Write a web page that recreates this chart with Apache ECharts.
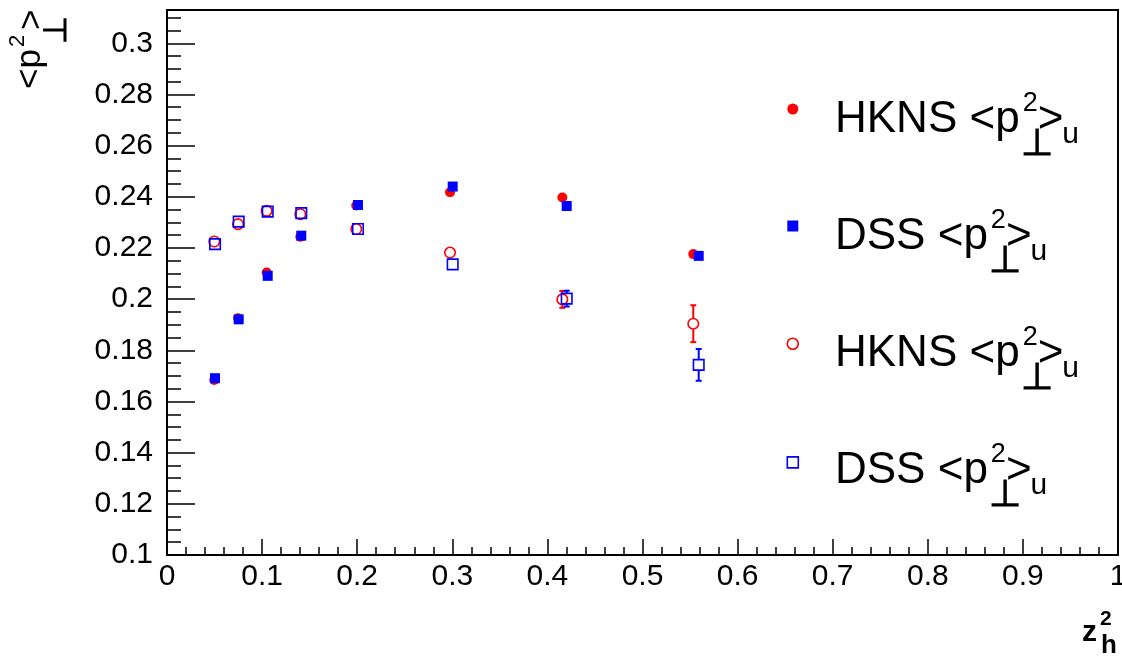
<!DOCTYPE html>
<html><head><meta charset="utf-8">
<script src="https://cdn.jsdelivr.net/npm/echarts@6/dist/echarts.min.js"></script>
<style>html,body{margin:0;padding:0;background:#fff}#c{width:1122px;height:656px}</style>
</head><body><div id="c"></div>
<script>
// ---------- data ----------
const hknsX = [0.0497, 0.0747, 0.1048, 0.1402, 0.1990, 0.2976, 0.4157, 0.5534];
const dssX  = [0.0505, 0.0754, 0.1059, 0.1412, 0.2008, 0.3004, 0.4203, 0.5591];
const hknsFilledY = [0.1684, 0.1925, 0.2104, 0.2244, 0.2366, 0.2418, 0.2397, 0.2176];
const dssFilledY  = [0.1691, 0.1921, 0.2091, 0.2248, 0.2368, 0.2440, 0.2364, 0.2169];
const hknsOpenY   = [0.2225, 0.2293, 0.2345, 0.2332, 0.2274, 0.2182, 0.1999, 0.1904];
const hknsOpenErr = [0, 0, 0, 0, 0, 0, 0.0033, 0.0072];
const dssOpenY    = [0.2215, 0.2303, 0.2342, 0.2336, 0.2274, 0.2136, 0.2002, 0.1743];
const dssOpenErr  = [0, 0, 0, 0, 0, 0, 0.0031, 0.0062];
const xTickLabels = ['0','0.1','0.2','0.3','0.4','0.5','0.6','0.7','0.8','0.9','1'];
const yTickLabels = ['0.1','0.12','0.14','0.16','0.18','0.2','0.22','0.24','0.26','0.28','0.3'];
const legendNames = ['HKNS', 'DSS', 'HKNS', 'DSS'];

// ---------- helpers ----------
const FONT = '"Liberation Sans", Arial, Helvetica, sans-serif';
const cv = document.createElement('canvas').getContext('2d');
function measure(t, fs, wt) { cv.font = (wt || 'normal') + ' ' + fs + 'px "Liberation Sans"'; return cv.measureText(t).width; }
function txt(t, x, baseline, fs, wt) {
  return { type: 'text', x: x, y: baseline - 0.35 * fs, silent: true,
    style: { text: t, fill: '#000', fontSize: fs, fontFamily: FONT, fontWeight: wt || 'normal',
      align: 'left', textAlign: 'left', verticalAlign: 'middle', textVerticalAlign: 'middle' } };
}
const pts = (xs, ys) => xs.map((x, i) => [x, ys[i]]);
const errPts = (xs, ys, es) => xs.map((x, i) => [x, ys[i], es[i]]);

function errorRender(color, r) {
  return function (params, api) {
    const x = api.value(0), y = api.value(1), e = api.value(2);
    if (!e) return;
    const c = api.coord([x, y]);
    const top = api.coord([x, y + e]);
    const bot = api.coord([x, y - e]);
    const st = { stroke: color, lineWidth: 2 };
    const cap = 3;
    const ch = [];
    if (c[1] - r > top[1]) ch.push({ type: 'line', shape: { x1: c[0], y1: top[1], x2: c[0], y2: c[1] - r }, style: st });
    if (bot[1] > c[1] + r) ch.push({ type: 'line', shape: { x1: c[0], y1: c[1] + r, x2: c[0], y2: bot[1] }, style: st });
    ch.push({ type: 'line', shape: { x1: c[0] - cap, y1: top[1], x2: c[0] + cap, y2: top[1] }, style: st });
    ch.push({ type: 'line', shape: { x1: c[0] - cap, y1: bot[1], x2: c[0] + cap, y2: bot[1] }, style: st });
    return { type: 'group', children: ch };
  };
}

// ---------- layout ----------
const gridL = 167, gridT = 10, gridW = 951, gridH = 545;
const legTop = 103.5, legIcon = 11, legGap = 106, legLeft = 786.5;

const graphics = [];
legendNames.forEach((nm, i) => {
  const cy = legTop + legIcon / 2 + i * (legIcon + legGap);
  const B = cy + 26, x0 = 835;
  const pre = nm + ' <p';
  const w = measure(pre, 44);
  const w2 = measure('2', 27);
  const wg = measure('>', 44);
  graphics.push(txt(pre, x0, B, 44));
  graphics.push(txt('2', x0 + w + 3, B - 22, 27));
  graphics.push(txt('\u22A5', x0 + w + 1, B + 23, 37, 'bold'));
  graphics.push(txt('>', x0 + w + 3 + w2, B, 44));
  graphics.push(txt('u', x0 + w + 3 + w2 + wg - 1, B + 10, 30));
});
(function () {
  const w = measure('<p', 35);
  graphics.push({ type: 'group', x: 43, y: 89, rotation: Math.PI / 2, silent: true, children: [
    txt('<p', 0, 0, 35),
    txt('2', w + 2, -17, 22),
    txt('\u22A5', w + 5, 25, 32, 'bold'),
    txt('>', w + 19, 2, 35)
  ] });
})();
graphics.push(txt('z', 1082, 643, 30, 'bold'));
graphics.push(txt('2', 1100, 627, 21, 'bold'));
graphics.push(txt('h', 1101, 655, 26, 'bold'));

const chart = echarts.init(document.getElementById('c'), null, { renderer: 'canvas' });
chart.setOption({
  animation: false,
  backgroundColor: '#fff',
  grid: { left: gridL, top: gridT, width: gridW, height: gridH, containLabel: false, outerBoundsMode: 'none',
    show: true, borderColor: '#000', borderWidth: 2, backgroundColor: 'transparent' },
  xAxis: [{
    type: 'value', min: 0, max: 1, interval: 0.1,
    axisLine: { show: true, lineStyle: { color: '#000', width: 2 } },
    axisTick: { show: true, inside: true, length: 16, lineStyle: { color: '#000', width: 1.5 } },
    minorTick: { show: true, splitNumber: 5, length: 8, lineStyle: { color: '#000', width: 1.5 } },
    splitLine: { show: false }, minorSplitLine: { show: false },
    axisLabel: { fontSize: 30, fontFamily: FONT, color: '#000', margin: 7,
      formatter: v => { const k = Math.round(v / 0.1); return Math.abs(v - k * 0.1) < 1e-6 ? (xTickLabels[k] || '') : ''; } }
  }],
  yAxis: [{
    type: 'value', min: 0.1, max: 0.313, interval: 0.02, position: 'left',
    axisLine: { show: true, lineStyle: { color: '#000', width: 2 } },
    axisTick: { show: true, inside: true, length: 28, lineStyle: { color: '#000', width: 1.5 } },
    splitLine: { show: false },
    axisLabel: { fontSize: 30, fontFamily: FONT, color: '#000', margin: 14, showMaxLabel: true,
      formatter: v => { const k = Math.round((v - 0.1) / 0.02); return Math.abs(v - 0.1 - k * 0.02) < 1e-6 ? (yTickLabels[k] || '') : ''; } }
  }, {
    type: 'value', min: 0.1, max: 0.313, interval: 0.005, position: 'left', offset: 0,
    axisLine: { show: false },
    axisTick: { show: true, inside: true, length: 14, lineStyle: { color: '#000', width: 1.5 } },
    splitLine: { show: false }, axisLabel: { show: false }
  }],
  legend: {
    orient: 'vertical', left: legLeft, top: legTop, padding: 0,
    itemWidth: legIcon, itemHeight: legIcon, itemGap: legGap, selectedMode: false,
    formatter: () => '', textStyle: { fontSize: 10, lineHeight: 10 },
    data: [
      { name: 'hknsFilled', icon: 'circle', itemStyle: { color: '#ff0000', borderWidth: 0 } },
      { name: 'dssFilled', icon: 'rect', itemStyle: { color: '#0000ff', borderWidth: 0 } },
      { name: 'hknsOpen', icon: 'circle', itemStyle: { color: 'rgba(255,255,255,0)', borderColor: '#ff0000', borderWidth: 1.6 } },
      { name: 'dssOpen', icon: 'rect', itemStyle: { color: 'rgba(255,255,255,0)', borderColor: '#0000ff', borderWidth: 1.6 } }
    ]
  },
  graphic: { elements: graphics },
  series: [
    { name: 'hknsFilled', type: 'scatter', yAxisIndex: 0, symbol: 'circle', symbolSize: 10,
      itemStyle: { color: '#ff0000', opacity: 1 }, data: pts(hknsX, hknsFilledY), z: 2 },
    { name: 'dssFilled', type: 'scatter', yAxisIndex: 0, symbol: 'rect', symbolSize: 10,
      itemStyle: { color: '#0000ff', opacity: 1 }, data: pts(dssX, dssFilledY), z: 3 },
    { name: 'hknsOpen', type: 'scatter', yAxisIndex: 0, symbol: 'circle', symbolSize: 10.5,
      itemStyle: { color: 'rgba(255,255,255,0)', borderColor: '#ff0000', borderWidth: 1.6, opacity: 1 }, data: pts(hknsX, hknsOpenY), z: 4 },
    { name: 'hknsOpenErr', type: 'custom', yAxisIndex: 0, renderItem: errorRender('#ff0000', 5.5),
      data: errPts(hknsX, hknsOpenY, hknsOpenErr), z: 4 },
    { name: 'dssOpen', type: 'scatter', yAxisIndex: 0, symbol: 'rect', symbolSize: 10.5,
      itemStyle: { color: 'rgba(255,255,255,0)', borderColor: '#0000ff', borderWidth: 1.6, opacity: 1 }, data: pts(dssX, dssOpenY), z: 5 },
    { name: 'dssOpenErr', type: 'custom', yAxisIndex: 0, renderItem: errorRender('#0000ff', 5.5),
      data: errPts(dssX, dssOpenY, dssOpenErr), z: 5 }
  ]
});
</script></body></html>
